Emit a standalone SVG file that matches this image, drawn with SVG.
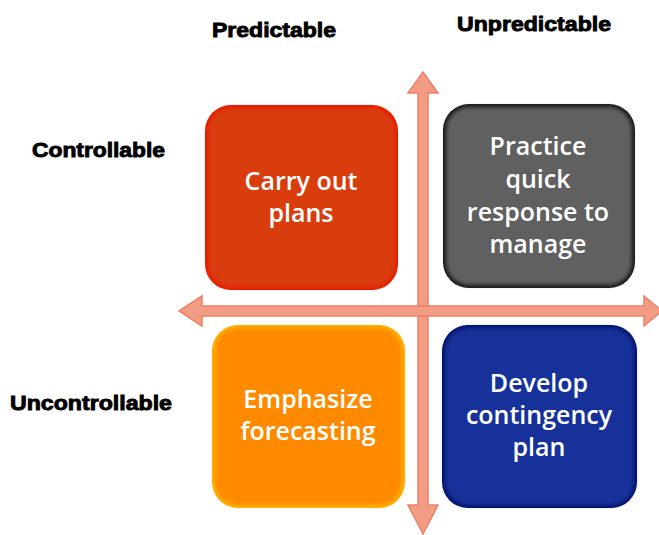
<svg xmlns="http://www.w3.org/2000/svg" width="659" height="535" viewBox="0 0 659 535">
  <defs>
    <style>
      .axis-label { font-family: "Liberation Sans", Arial, sans-serif; font-weight: 900; font-size: 21px; fill: #000; stroke: #000; stroke-width: 0.9px; }
      .box-text { font-family: "Open Sans", "Noto Sans", sans-serif; font-weight: 600; font-size: 25px; fill: #fff; text-anchor: middle; }
      .arrow { fill: #F39C84; stroke: #EE8066; stroke-width: 1.5; }
    </style>
    <filter id="soft" x="-5%" y="-5%" width="110%" height="110%">
      <feGaussianBlur stdDeviation="2"/>
    </filter>
  </defs>

  <rect width="659" height="535" fill="#fff"/>

  <!-- axis labels -->
  <g id="labels">
    <text class="axis-label" x="212" y="37" textLength="124" lengthAdjust="spacingAndGlyphs">Predictable</text>
    <text class="axis-label" x="457" y="31" textLength="154" lengthAdjust="spacingAndGlyphs">Unpredictable</text>
    <text class="axis-label" x="32" y="157" textLength="133" lengthAdjust="spacingAndGlyphs">Controllable</text>
    <text class="axis-label" x="10" y="410" textLength="162" lengthAdjust="spacingAndGlyphs">Uncontrollable</text>
  </g>

  <!-- cross-shaped axes -->
  <g id="connectors">
    <path class="arrow" d="M418,93 H408 L423,72 L438,93 H428 V505 H438 L423,534 L408,505 H418 Z"/>
    <path class="arrow" d="M202,306 V296 L179,311 L202,326 V316 H644 V326 L662,311 L644,296 V306 Z"/>
  </g>

  <g id="node-carry-out">
    <rect x="205" y="105" width="193" height="185" rx="26" fill="#E61A00"/>
    <rect x="208" y="108" width="187" height="179" rx="23" fill="#D93E0C" filter="url(#soft)"/>
    <text class="box-text"><tspan x="301" y="190">Carry out</tspan><tspan x="301" y="222">plans</tspan></text>
  </g>

  <g id="node-practice">
    <rect x="443" y="104" width="192" height="184" rx="26" fill="#151515"/>
    <rect x="446" y="107" width="186" height="178" rx="23" fill="#616161" filter="url(#soft)"/>
    <text class="box-text"><tspan x="538" y="155">Practice</tspan><tspan x="538" y="188">quick</tspan><tspan x="538" y="221">response  to</tspan><tspan x="538" y="253">manage</tspan></text>
  </g>

  <g id="node-emphasize">
    <rect x="212" y="325" width="193" height="183" rx="26" fill="#FFB300"/>
    <rect x="215" y="328" width="187" height="177" rx="23" fill="#FF8A00" filter="url(#soft)"/>
    <text class="box-text"><tspan x="308" y="408">Emphasize</tspan><tspan x="308" y="440">forecasting</tspan></text>
  </g>

  <g id="node-develop">
    <rect x="442" y="325" width="195" height="183" rx="26" fill="#06126A"/>
    <rect x="445" y="328" width="189" height="177" rx="23" fill="#17319A" filter="url(#soft)"/>
    <text class="box-text"><tspan x="539" y="392">Develop</tspan><tspan x="539" y="424">contingency</tspan><tspan x="539" y="456">plan</tspan></text>
  </g>
</svg>
